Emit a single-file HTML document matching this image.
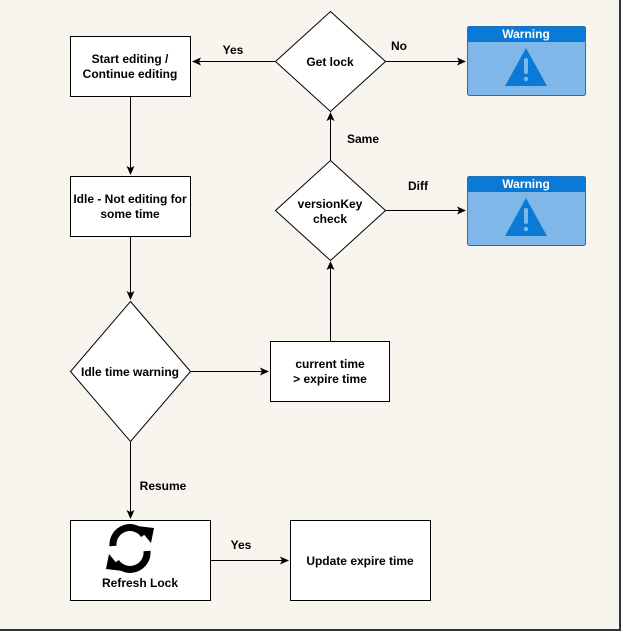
<!DOCTYPE html>
<html><head><style>
html,body{margin:0;padding:0;background:#f8f5ee;}
svg{display:block;}
text{font-family:"Liberation Sans",Arial,sans-serif;font-size:12px;font-weight:bold;fill:#000;}
</style></head><body>
<svg width="621" height="631" viewBox="0 0 621 631" xmlns="http://www.w3.org/2000/svg">
<defs>
<marker id="a" markerWidth="10" markerHeight="10" refX="8" refY="5" orient="auto" markerUnits="userSpaceOnUse">
<path d="M0,1 L9,5 L0,9 L2,5 Z" fill="#000"/>
</marker>
</defs>
<rect x="0" y="0" width="621" height="631" fill="#f8f5ee"/>
<rect x="619" y="0" width="2" height="631" fill="#2d343a"/>
<rect x="0" y="629" width="621" height="2" fill="#2d343a"/>
<g stroke="#000" stroke-width="1" fill="#fff">
<rect x="70.5" y="36.5" width="120" height="60"/>
<polygon points="330.5,11.5 385.5,61.5 330.5,111.5 275.5,61.5"/>
<rect x="70.5" y="176.5" width="120" height="60"/>
<polygon points="330.5,160.5 385.5,210.5 330.5,260.5 275.5,210.5"/>
<polygon points="130.5,301.5 190.5,371.5 130.5,441.5 70.5,371.5"/>
<rect x="270.5" y="341.5" width="119" height="60"/>
<rect x="70.5" y="520.5" width="140" height="80"/>
<rect x="290.5" y="520.5" width="140" height="80"/>
</g>
<g stroke="#000" stroke-width="1" fill="none" marker-end="url(#a)">
<line x1="275" y1="61.5" x2="193" y2="61.5"/>
<line x1="385" y1="61.5" x2="465" y2="61.5"/>
<line x1="130.5" y1="97" x2="130.5" y2="174"/>
<line x1="130.5" y1="237" x2="130.5" y2="299"/>
<line x1="190" y1="371.5" x2="268" y2="371.5"/>
<line x1="330.5" y1="341" x2="330.5" y2="262"/>
<line x1="330.5" y1="160" x2="330.5" y2="113"/>
<line x1="385" y1="210.5" x2="465" y2="210.5"/>
<line x1="130.5" y1="442" x2="130.5" y2="518"/>
<line x1="211" y1="560.5" x2="288" y2="560.5"/>
</g>
<g>
<rect x="467.5" y="26.5" width="118" height="69" rx="2" fill="#7fb8e8" stroke="#1f6fb8"/>
<rect x="467.5" y="26.5" width="118" height="15" rx="2" fill="#0a7ad6" stroke="#1f6fb8"/>
<text x="526" y="38" text-anchor="middle" style="fill:#fff;font-size:12px">Warning</text>
<polygon points="526,48 547,86 505,86" fill="#0a7ad6"/>
<rect x="524" y="58" width="4" height="16" rx="2" fill="#7fb8e8"/>
<circle cx="526" cy="79" r="2.2" fill="#7fb8e8"/>
</g>
<g>
<rect x="467.5" y="176.5" width="118" height="69" rx="2" fill="#7fb8e8" stroke="#1f6fb8"/>
<rect x="467.5" y="176.5" width="118" height="15" rx="2" fill="#0a7ad6" stroke="#1f6fb8"/>
<text x="526" y="188" text-anchor="middle" style="fill:#fff;font-size:12px">Warning</text>
<polygon points="526,198 547,236 505,236" fill="#0a7ad6"/>
<rect x="524" y="208" width="4" height="16" rx="2" fill="#7fb8e8"/>
<circle cx="526" cy="229" r="2.2" fill="#7fb8e8"/>
</g>
<g fill="none" stroke="#000" stroke-width="7">
<path d="M113,546 A17,17 0 0 1 144,535"/>
<path d="M147,551 A17,17 0 0 1 116,562"/>
</g>
<polygon points="137,526 154,528 151,543" fill="#000"/>
<polygon points="123,571 106,569 109,554" fill="#000"/>
<g text-anchor="middle">
<text x="130" y="63">Start editing /</text>
<text x="130" y="78">Continue editing</text>
<text x="330" y="66">Get lock</text>
<text x="130" y="203">Idle - Not editing for</text>
<text x="130" y="218">some time</text>
<text x="330" y="208">versionKey</text>
<text x="330" y="223">check</text>
<text x="130" y="376">Idle time warning</text>
<text x="330" y="368">current time</text>
<text x="330" y="383">&gt; expire time</text>
<text x="140" y="587">Refresh Lock</text>
<text x="360" y="565">Update expire time</text>
<text x="233" y="54">Yes</text>
<text x="399" y="50">No</text>
<text x="363" y="143">Same</text>
<text x="418" y="190">Diff</text>
<text x="163" y="490">Resume</text>
<text x="241" y="549">Yes</text>
</g>
</svg>
</body></html>
